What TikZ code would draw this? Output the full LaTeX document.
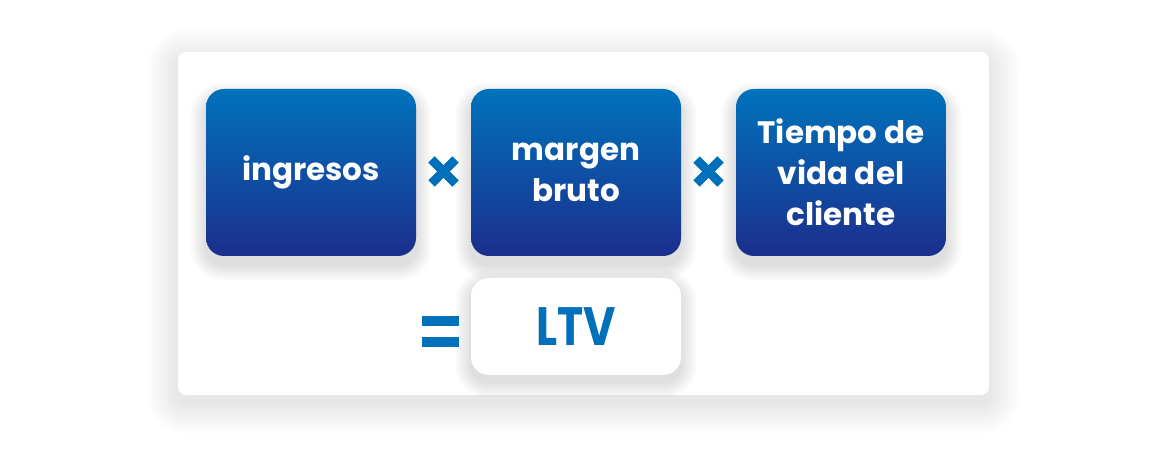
\documentclass[tikz,border=0pt]{standalone}
\usepackage{fontspec}
\setmainfont{Poppins}
\usetikzlibrary{calc}
\definecolor{topblue}{RGB}{0,114,188}
\definecolor{botblue}{RGB}{28,46,140}
\definecolor{accent}{RGB}{0,112,187}
\pgfdeclarelayer{lzero}
\pgfdeclarelayer{lone}
\pgfdeclarelayer{ltwo}
\pgfsetlayers{lzero,lone,ltwo,main}
\tikzset{
  card/.style={fill=white, rounded corners=8pt, minimum width=811pt, minimum height=343pt, inner sep=0pt},
  bluebox/.style={rounded corners=18pt, minimum width=210pt, minimum height=167pt, inner sep=0pt,
    top color=topblue, bottom color=botblue, draw=none, text=white, align=center,
    font=\bfseries\fontsize{31}{41}\selectfont},
  whitebox/.style={rounded corners=18pt, minimum width=210pt, minimum height=97pt, inner sep=0pt,
    fill=white, text=accent, font=\bfseries\fontsize{54}{54}\selectfont},
  timesarm/.style={draw=accent, line width=9pt, line cap=butt},
  eqbar/.style={fill=accent, draw=none}
}
% #1 node, #2 steps, #3 step size, #4 y offset, #5 opacity per step, #6 base radius
\newcommand{\mysoftshadow}[6]{%
  \foreach \i in {1,...,#2}{%
    \pgfmathsetmacro\myrad{#6+\i*#3}%
    \pgfmathsetmacro\myd{\i*#3}%
    \fill[black,opacity=#5,rounded corners=\myrad pt]
      ([shift={(-\myd,-\myd+#4)}]#1.south west) rectangle ([shift={(\myd,\myd+#4)}]#1.north east);
  }%
}
\begin{document}
\begin{tikzpicture}[x=1pt,y=1pt]
\useasboundingbox (0,0) rectangle (1172,449);
\begin{pgfonlayer}{lzero}
\fill[white] (0,0) rectangle (1172,449);
\end{pgfonlayer}
\begin{pgfonlayer}{lone}
\node[card] (card) at (583.5,225.5) {};
\end{pgfonlayer}
\node[bluebox] (ing) at (311,276.5) {ingresos};
\node[bluebox] (mar) at (576,276.5) {margen\\bruto};
\node[bluebox] (tie) at (841,276.5) {Tiempo de\\vida del\\cliente};
\node[whitebox] (ltv) at (576,122.5) {\scalebox{0.82}[1]{LTV}};
% shadows
\begin{pgfonlayer}{lzero}
\mysoftshadow{card}{24}{1.3}{-8}{0.0045}{8}
\end{pgfonlayer}
\begin{pgfonlayer}{ltwo}
\mysoftshadow{ing}{16}{1.0}{-9}{0.008}{18}
\mysoftshadow{mar}{16}{1.0}{-9}{0.008}{18}
\mysoftshadow{tie}{16}{1.0}{-9}{0.008}{18}
\mysoftshadow{ltv}{16}{1.0}{-7}{0.007}{18}
\end{pgfonlayer}
% multiplication signs
\coordinate (x1) at ($(ing.east)!0.5!(mar.west)+(0,1)$);
\coordinate (x2) at ($(mar.east)!0.5!(tie.west)+(0,1)$);
\foreach \c in {x1,x2}{
  \draw[timesarm] ([shift={(-12,-12)}]\c) -- ([shift={(12,12)}]\c);
  \draw[timesarm] ([shift={(-12,12)}]\c) -- ([shift={(12,-12)}]\c);
}
% equals sign
\coordinate (eq) at (440.5,117);
\fill[eqbar] ([shift={(-18.5,6)}]eq) rectangle ([shift={(18.5,15.5)}]eq);
\fill[eqbar] ([shift={(-18.5,-15)}]eq) rectangle ([shift={(18.5,-5.5)}]eq);
\end{tikzpicture}
\end{document}
